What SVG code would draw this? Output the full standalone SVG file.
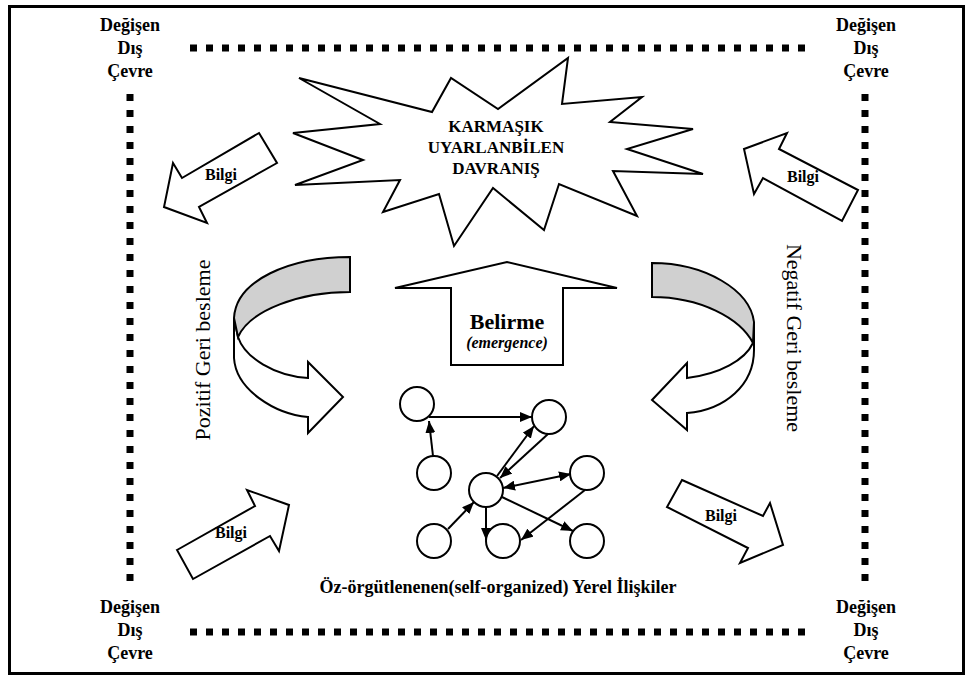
<svg xmlns="http://www.w3.org/2000/svg" width="974" height="684" viewBox="0 0 974 684">
  <style>
    .shape { fill: #fff; stroke: #000; stroke-width: 2; stroke-linejoin: miter; }
    .band { fill: #d0d0d0; stroke: #000; stroke-width: 2; }
    .dots { fill: none; stroke: #000; stroke-width: 7; stroke-dasharray: 7 9; }
    .lbl { font-family: "Liberation Serif", "Times New Roman", serif; font-weight: bold; fill: #000; text-anchor: middle; }
    .side { font-family: "Liberation Serif", "Times New Roman", serif; font-size: 22px; fill: #000; text-anchor: middle; }
    .edge { fill: none; stroke: #000; stroke-width: 2; }
    .node { fill: #fff; stroke: #000; stroke-width: 2; }
  </style>
  <defs>
    <marker id="head" viewBox="0 0 12 10" refX="12" refY="5" markerWidth="12" markerHeight="10" markerUnits="userSpaceOnUse" orient="auto-start-reverse">
      <path d="M0,0 L12,5 L0,10 Z" fill="#000"/>
    </marker>
  </defs>

  <rect width="974" height="684" fill="#fff"/>
  <!-- outer frame -->
  <rect x="9.5" y="6.5" width="954" height="667" fill="none" stroke="#000" stroke-width="3"/>

  <!-- changing environment boundary -->
  <g id="boundary">
    <line class="dots" x1="190" y1="48" x2="810" y2="48"/>
    <line class="dots" x1="190" y1="632" x2="810" y2="632"/>
    <line class="dots" x1="130" y1="94" x2="130" y2="584"/>
    <line class="dots" x1="865" y1="94" x2="865" y2="584"/>
  </g>

  <g id="corner-tl" class="lbl" font-size="18">
    <text x="130" y="31">Değişen</text>
    <text x="130" y="54">Dış</text>
    <text x="130" y="77">Çevre</text>
  </g>
  <g id="corner-tr" class="lbl" font-size="18">
    <text x="866" y="31">Değişen</text>
    <text x="866" y="54">Dış</text>
    <text x="866" y="77">Çevre</text>
  </g>
  <g id="corner-bl" class="lbl" font-size="18">
    <text x="130" y="613">Değişen</text>
    <text x="130" y="636">Dış</text>
    <text x="130" y="659">Çevre</text>
  </g>
  <g id="corner-br" class="lbl" font-size="18">
    <text x="866" y="613">Değişen</text>
    <text x="866" y="636">Dış</text>
    <text x="866" y="659">Çevre</text>
  </g>

  <!-- complex adaptive behaviour burst -->
  <g id="behaviour">
    <polygon class="shape" points="299,78 432,112 451,78 498,109 568,58 562,104 642,97 610,122 693,129 627,149 703,174 613,171 637,216 559,184 544,230 493,188 454,246 439,194 383,212 400,180 295,185 363,160 293,133 380,124"/>
    <g class="lbl" font-size="17">
      <text x="496" y="132">KARMAŞIK</text>
      <text x="496" y="153">UYARLANBİLEN</text>
      <text x="496" y="174">DAVRANIŞ</text>
    </g>
  </g>

  <!-- information arrows -->
  <g id="info-tl">
    <polygon class="shape" points="259,133 277,163 199,207 207,223 164,207 173,163 182,178"/>
    <text class="lbl" font-size="16" x="221" y="180">Bilgi</text>
  </g>
  <g id="info-tr">
    <polygon class="shape" points="744,149 787,133 779,149 858,190 842,221 763,178 754,194"/>
    <text class="lbl" font-size="16" x="803" y="182">Bilgi</text>
  </g>
  <g id="info-bl">
    <polygon class="shape" points="177,550 255,506 247,490 289,505 279,551 270,536 193,579"/>
    <text class="lbl" font-size="16" x="231" y="538">Bilgi</text>
  </g>
  <g id="info-br">
    <polygon class="shape" points="682,480 763,516 770,503 783,545 740,563 748,548 667,507"/>
    <text class="lbl" font-size="16" x="721" y="521">Bilgi</text>
  </g>

  <!-- emergence arrow -->
  <g id="emergence">
    <polygon class="shape" points="395,288 507,262 617,288 563,288 563,365 451,365 451,288"/>
    <text class="lbl" font-size="22" x="507" y="329">Belirme</text>
    <text class="lbl" font-size="16" font-style="italic" x="507" y="348">(emergence)</text>
  </g>

  <!-- positive feedback loop -->
  <g id="positive-feedback">
    <path class="shape" d="M234,318 L234,358 C236,390 275,414 308,417 L308,433 L343,397 L308,362 L308,378 C275,376 245,358 238,337 Z"/>
    <path class="band" d="M350,257 C290,257 236,280 234,318 L238,337 C250,310 300,292 350,292 Z"/>
    <text class="side" transform="translate(210,350) rotate(-90)">Pozitif Geri besleme</text>
  </g>

  <!-- negative feedback loop -->
  <g id="negative-feedback">
    <path class="shape" d="M754,322 L754,350 C754,385 725,410 687,413 L687,430 L652,400 L687,363 L687,378 C720,374 745,360 753,343 Z"/>
    <path class="band" d="M652,263 C705,263 750,290 754,322 L753,343 C740,318 700,297 652,297 Z"/>
    <text class="side" transform="translate(787,338) rotate(90)">Negatif Geri besleme</text>
  </g>

  <!-- local relations network: links -->
  <g id="links">
    <line class="edge" x1="429" y1="417" x2="532" y2="417" marker-end="url(#head)"/>
    <line class="edge" x1="433" y1="456" x2="429" y2="421" marker-end="url(#head)"/>
    <line class="edge" x1="497" y1="476" x2="534" y2="426" marker-end="url(#head)"/>
    <line class="edge" x1="548" y1="434" x2="500" y2="478" marker-end="url(#head)"/>
    <line class="edge" x1="503" y1="488" x2="571" y2="474" marker-start="url(#head)" marker-end="url(#head)"/>
    <line class="edge" x1="448" y1="529" x2="474" y2="502" marker-end="url(#head)"/>
    <line class="edge" x1="486" y1="507" x2="486" y2="540" marker-end="url(#head)"/>
    <line class="edge" x1="502" y1="497" x2="573" y2="531" marker-end="url(#head)"/>
    <line class="edge" x1="585" y1="490" x2="521" y2="540" marker-end="url(#head)"/>
  </g>

  <!-- local relations network: agents -->
  <g id="agent-a"><circle class="node" cx="417" cy="404" r="17"/></g>
  <g id="agent-b"><circle class="node" cx="549" cy="417" r="17"/></g>
  <g id="agent-c"><circle class="node" cx="434" cy="473" r="17"/></g>
  <g id="agent-d"><circle class="node" cx="486" cy="490" r="17"/></g>
  <g id="agent-e"><circle class="node" cx="587" cy="473" r="17"/></g>
  <g id="agent-f"><circle class="node" cx="434" cy="541" r="17"/></g>
  <g id="agent-g"><circle class="node" cx="503" cy="541" r="17"/></g>
  <g id="agent-h"><circle class="node" cx="587" cy="541" r="17"/></g>

  <text id="relations-label" class="lbl" font-size="18" x="498" y="593">Öz-örgütlenenen(self-organized) Yerel İlişkiler</text>
</svg>
